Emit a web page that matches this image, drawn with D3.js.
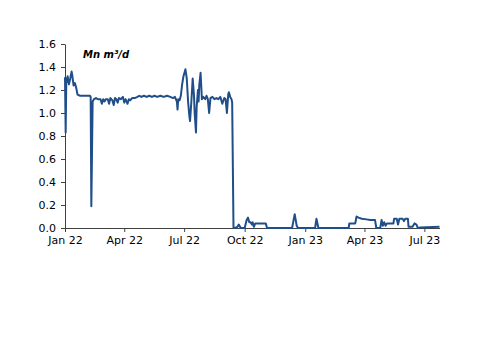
<!DOCTYPE html>
<html><head><meta charset="utf-8">
<script src="https://cdn.jsdelivr.net/npm/d3@7"></script>
<style>body{margin:0;background:#fff}svg{display:block}text{font-family:"DejaVu Sans",Verdana,sans-serif}</style>
</head><body><svg id="c" width="500" height="353"></svg>
<script>
const dates = ["2022-01-01","2022-01-02","2022-01-03","2022-01-04","2022-01-05","2022-01-07","2022-01-09","2022-01-11","2022-01-12","2022-01-14","2022-01-16","2022-01-18","2022-01-20","2022-01-24","2022-01-31","2022-02-08","2022-02-09","2022-02-10","2022-02-12","2022-02-14","2022-02-17","2022-02-20","2022-02-24","2022-02-26","2022-02-28","2022-03-02","2022-03-04","2022-03-07","2022-03-09","2022-03-11","2022-03-14","2022-03-16","2022-03-18","2022-03-20","2022-03-22","2022-03-24","2022-03-27","2022-03-30","2022-04-01","2022-04-03","2022-04-06","2022-04-08","2022-04-10","2022-04-13","2022-04-17","2022-04-21","2022-04-24","2022-04-27","2022-05-01","2022-05-05","2022-05-09","2022-05-13","2022-05-17","2022-05-21","2022-05-26","2022-05-31","2022-06-05","2022-06-10","2022-06-14","2022-06-17","2022-06-20","2022-06-21","2022-06-22","2022-06-24","2022-06-26","2022-06-28","2022-06-30","2022-07-03","2022-07-05","2022-07-07","2022-07-09","2022-07-10","2022-07-12","2022-07-14","2022-07-16","2022-07-17","2022-07-19","2022-07-20","2022-07-22","2022-07-23","2022-07-24","2022-07-26","2022-07-28","2022-07-30","2022-08-02","2022-08-04","2022-08-06","2022-08-08","2022-08-10","2022-08-13","2022-08-16","2022-08-19","2022-08-22","2022-08-25","2022-08-28","2022-08-31","2022-09-02","2022-09-04","2022-09-06","2022-09-07","2022-09-09","2022-09-11","2022-09-12","2022-09-14","2022-09-16","2022-09-20","2022-09-22","2022-09-25","2022-10-01","2022-10-04","2022-10-06","2022-10-08","2022-10-10","2022-10-12","2022-10-13","2022-10-15","2022-10-17","2022-11-02","2022-11-04","2022-12-12","2022-12-14","2022-12-16","2022-12-19","2022-12-21","2023-01-16","2023-01-18","2023-01-21","2023-03-08","2023-03-09","2023-03-18","2023-03-20","2023-03-23","2023-03-28","2023-04-04","2023-04-10","2023-04-17","2023-04-19","2023-04-25","2023-04-27","2023-04-29","2023-05-01","2023-05-03","2023-05-05","2023-05-15","2023-05-16","2023-05-20","2023-05-22","2023-05-24","2023-05-29","2023-05-31","2023-06-02","2023-06-06","2023-06-07","2023-06-13","2023-06-16","2023-06-19","2023-06-21","2023-06-25","2023-07-24"];
const values = [1.31,0.83,1.30,1.27,1.32,1.25,1.30,1.36,1.33,1.24,1.26,1.22,1.16,1.15,1.15,1.15,1.14,0.19,1.10,1.12,1.13,1.12,1.12,1.08,1.12,1.10,1.12,1.12,1.08,1.13,1.11,1.07,1.13,1.12,1.09,1.13,1.12,1.14,1.09,1.12,1.08,1.12,1.11,1.13,1.13,1.14,1.15,1.14,1.15,1.14,1.15,1.14,1.15,1.14,1.15,1.14,1.15,1.14,1.13,1.14,1.10,1.03,1.12,1.11,1.15,1.25,1.32,1.38,1.30,1.10,0.97,0.93,1.10,1.30,1.15,1.00,0.83,1.05,1.20,1.10,1.24,1.35,1.12,1.14,1.12,1.15,1.12,1.00,1.13,1.14,1.12,1.13,1.12,1.14,1.08,1.13,1.12,1.00,1.16,1.18,1.14,1.12,1.09,0.00,0.00,0.01,0.03,0.00,0.00,0.07,0.09,0.05,0.05,0.03,0.05,0.01,0.04,0.04,0.00,0.00,0.06,0.12,0.02,0.00,0.00,0.08,0.00,0.00,0.04,0.04,0.10,0.09,0.08,0.075,0.07,0.07,0.00,0.00,0.07,0.02,0.05,0.02,0.04,0.04,0.08,0.08,0.03,0.08,0.08,0.06,0.08,0.08,0.01,0.01,0.04,0.03,0.00,0.005,0.01];
const xTickDates = ["2022-01-01","2022-04-01","2022-07-01","2022-10-01","2023-01-01","2023-04-01","2023-07-01"];
const xTickLabels = ["Jan 22","Apr 22","Jul 22","Oct 22","Jan 23","Apr 23","Jul 23"];
const yTicks = [0,0.2,0.4,0.6,0.8,1.0,1.2,1.4,1.6];
const unitLabel = "Mn m³/d";

const parse = d3.timeParse("%Y-%m-%d");
const data = dates.map((d,i)=>({date:parse(d), value:values[i]}));
const svg = d3.select("#c");
const x = d3.scaleTime().domain([parse("2022-01-01"), parse("2023-07-24")]).range([65, 439.5]);
const y = d3.scaleLinear().domain([0,1.6]).range([228,44]);

const xAxis = d3.axisBottom(x).tickValues(xTickDates.map(parse)).tickSize(4).tickSizeOuter(0)
  .tickFormat((d,i)=>xTickLabels[i]);
const gx = svg.append("g").attr("transform","translate(0,228)").call(xAxis);
gx.selectAll("text").attr("font-size",11).attr("fill","#000").attr("dy","0.95em").attr("y",6);
gx.selectAll("line,path").attr("stroke","#404040");

const yAxis = d3.axisLeft(y).tickValues(yTicks).tickSize(4).tickSizeOuter(0).tickFormat(d3.format(".1f"));
const gy = svg.append("g").attr("transform","translate(65,0)").call(yAxis);
gy.selectAll("text").attr("font-size",11).attr("fill","#000").attr("x",-9);
gy.selectAll("line,path").attr("stroke","#404040");
svg.selectAll(".domain").attr("stroke-width",1);

svg.append("path").datum(data)
  .attr("fill","none").attr("stroke","#1f4e89").attr("stroke-width",2).attr("stroke-linejoin","round")
  .attr("d", d3.line().x(d=>x(d.date)).y(d=>y(d.value)));

svg.append("text").attr("x",83).attr("y",57.5).attr("font-size",10).attr("font-weight","bold")
  .attr("font-style","italic").attr("fill","#000").text(unitLabel);
</script></body></html>
